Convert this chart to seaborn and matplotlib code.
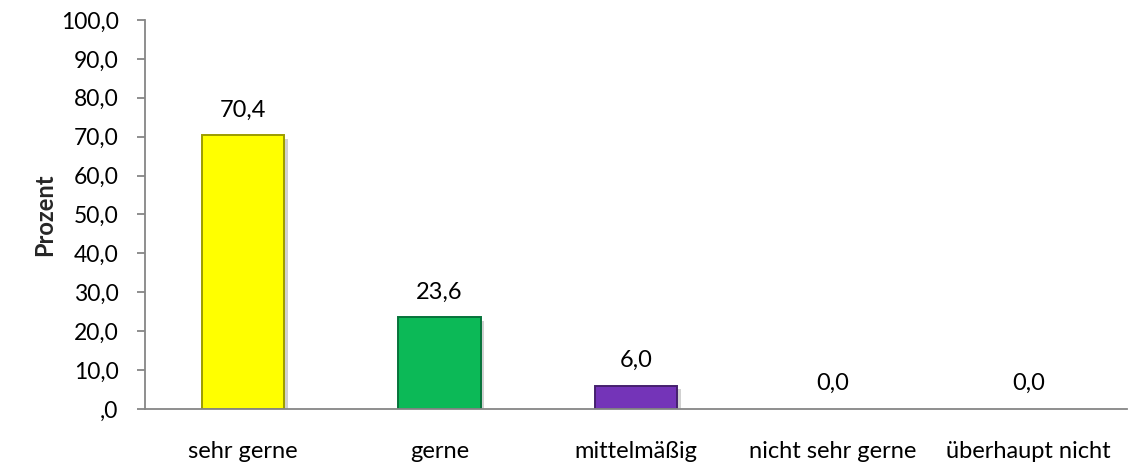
import matplotlib
matplotlib.use("Agg")
import matplotlib.pyplot as plt
import matplotlib.patheffects as pe
import seaborn as sns
import pandas as pd

categories = ["sehr gerne", "gerne", "mittelmäßig", "nicht sehr gerne", "überhaupt nicht"]
values = [70.4, 23.6, 6.0, 0.0, 0.0]
bar_colors = ["#FFFF00", "#0CB957", "#7434B8", "#7434B8", "#7434B8"]
edge_colors = ["#9C9C00", "#06733A", "#45206E", "#45206E", "#45206E"]
y_ticks = [0, 10, 20, 30, 40, 50, 60, 70, 80, 90, 100]


def fmt(v, zero=",0"):
    s = f"{v:.1f}".replace(".", ",")
    return zero if s == "0,0" else s


sns.set_theme(style="white")
plt.rcParams["font.family"] = ["Lato", "DejaVu Sans"]

df = pd.DataFrame({"Kategorie": categories, "Prozent": values})

fig = plt.figure(figsize=(11.3, 4.66), dpi=100)
ax = fig.add_axes([0.1283, 0.1223, 0.869, 0.8348])

sns.barplot(data=df, x="Kategorie", y="Prozent", hue="Kategorie",
            palette=bar_colors, width=0.42, legend=False, ax=ax,
            saturation=1)

for patch, ec, v in zip(ax.patches, edge_colors, values):
    if v == 0:
        patch.set_visible(False)
        continue
    patch.set_edgecolor(ec)
    patch.set_linewidth(1.4)
    patch.set_path_effects([
        pe.SimplePatchShadow(offset=(2.5, -2.5), shadow_rgbFace="#000000", alpha=0.18),
        pe.Normal(),
    ])

for i, v in enumerate(values):
    ax.annotate(fmt(v, zero="0,0"), (i, v),
                xytext=(0, 13.5), textcoords="offset points",
                ha="center", va="baseline", fontsize=17, color="#000000")

ax.set_ylim(0, 100)
ax.set_xlim(-0.5, 4.5)
ax.set_yticks(y_ticks)
ax.set_yticklabels([fmt(t) for t in y_ticks])
ax.set_xlabel("")
ax.set_ylabel("Prozent", fontsize=17, fontweight="bold", labelpad=3)

for side in ["top", "right"]:
    ax.spines[side].set_visible(False)
for side in ["left", "bottom"]:
    ax.spines[side].set_color("#868686")
    ax.spines[side].set_linewidth(1.3)

ax.tick_params(axis="y", which="both", left=True, length=6, width=1.3,
               color="#868686", labelsize=16.5, labelcolor="#000000", pad=13)
ax.tick_params(axis="x", bottom=False, labelsize=17, labelcolor="#000000", pad=17)

fig.savefig("out.png", dpi=100, facecolor="white")
